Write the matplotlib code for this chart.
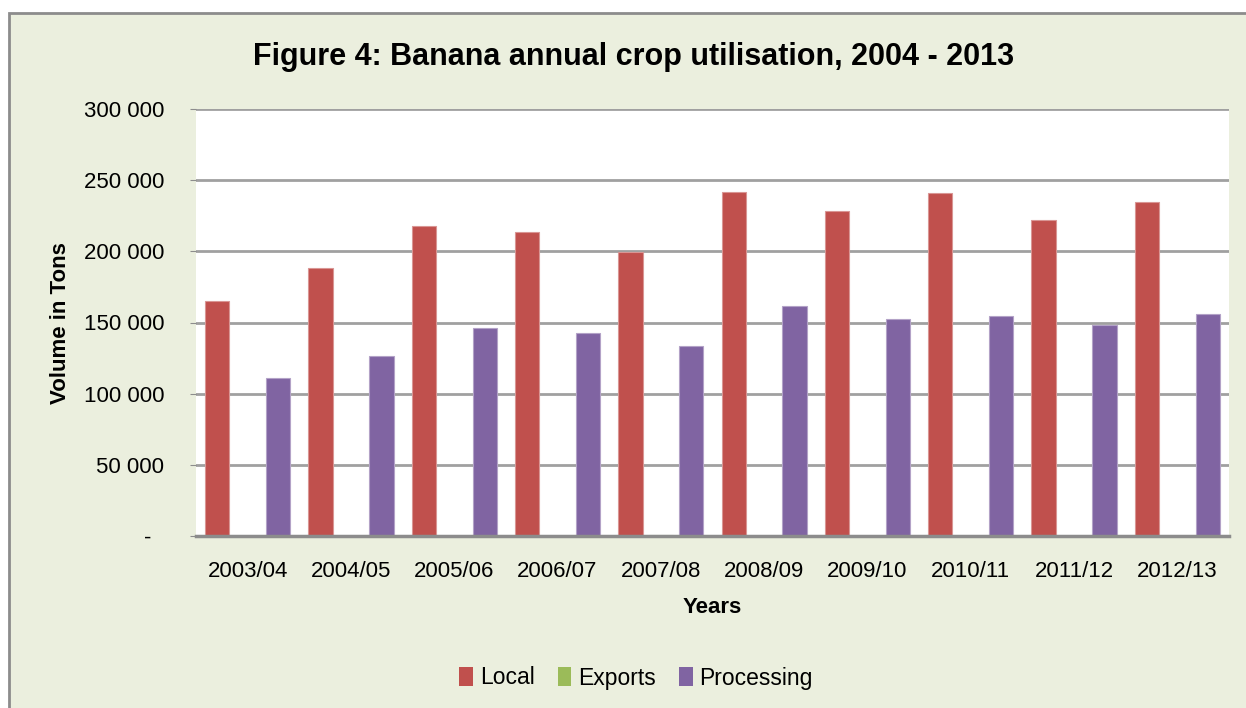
import matplotlib
matplotlib.use("Agg")
import matplotlib.pyplot as plt
import numpy as np
from matplotlib.patches import Rectangle, Patch
from matplotlib.ticker import FuncFormatter

years = ["2003/04", "2004/05", "2005/06", "2006/07", "2007/08",
         "2008/09", "2009/10", "2010/11", "2011/12", "2012/13"]
local = [165000, 188600, 217800, 213300, 199800,
         241600, 228300, 241300, 221700, 234600]
exports = [0, 0, 0, 0, 700, 0, 0, 0, 0, 0]
processing = [111200, 126600, 146300, 142800, 133200,
              161900, 152800, 154700, 148400, 156300]

plt.rcParams['font.family'] = ['Liberation Sans', 'DejaVu Sans']

bg = '#EBEFDE'
fig = plt.figure(figsize=(12.46, 7.08), dpi=100)
fig.patch.set_facecolor('white')
# chart frame, open at the right and bottom
frame = Rectangle((9/1246, -0.05), 1.1, 1 - 13/708 + 0.05,
                  transform=fig.transFigure, facecolor=bg,
                  edgecolor='#8C8C8C', linewidth=2, zorder=-10)
fig.patches.append(frame)

ax = fig.add_axes([196/1246, 172/708, 1033/1246, 427/708])
ax.set_facecolor('white')

x = np.arange(len(years))
w = 0.235
off = 0.295
ax.bar(x - off, local, w, color='#C0504D', edgecolor='#D99694', linewidth=0.8, label='Local', zorder=3)
ax.bar(x, exports, w, color='#9BBB59', edgecolor='#C3D69B', linewidth=0.8, label='Exports', zorder=3)
ax.bar(x + off, processing, w, color='#8064A2', edgecolor='#B3A2C7', linewidth=0.8, label='Processing', zorder=3)

ax.set_xlim(-0.5, len(years) - 0.5)
ax.set_ylim(0, 300000)
ax.set_yticks(np.arange(0, 300001, 50000))
ax.yaxis.set_major_formatter(FuncFormatter(
    lambda v, p: '-  ' if v == 0 else '{:,.0f}'.format(v).replace(',', ' ')))
ax.grid(axis='y', color='#A0A0A0', linewidth=2, zorder=0)
ax.set_axisbelow(True)

for s in ['top', 'right', 'left']:
    ax.spines[s].set_visible(False)
ax.spines['bottom'].set_color('#8C8C8C')
ax.spines['bottom'].set_linewidth(2.5)
ax.spines['bottom'].set_zorder(4)

ax.set_xticks(x)
ax.set_xticklabels(years)
ax.tick_params(axis='x', length=0, labelsize=16, pad=18)
ax.tick_params(axis='y', length=4, color='#8C8C8C', labelsize=16, pad=19)

ax.set_xlabel('Years', fontsize=16, fontweight='bold', labelpad=11)
fig.text(60/1246, 1 - 323/708, 'Volume in Tons', rotation=90, fontsize=16,
         fontweight='bold', ha='center', va='center')
fig.text(634/1246, 1 - 57/708, 'Figure 4: Banana annual crop utilisation, 2004 - 2013',
         fontsize=22, fontweight='bold', ha='center', va='center')

handles = [Patch(facecolor='#C0504D', label='Local'),
           Patch(facecolor='#9BBB59', label='Exports'),
           Patch(facecolor='#8064A2', label='Processing')]
fig.legend(handles=handles, loc='center', bbox_to_anchor=(636/1246, 1 - 678/708),
           ncol=3, frameon=False, fontsize=16.5, handlelength=0.6, handleheight=0.9,
           handletextpad=0.3, columnspacing=1.0)

fig.savefig('out.png', dpi=100, facecolor=fig.get_facecolor())
